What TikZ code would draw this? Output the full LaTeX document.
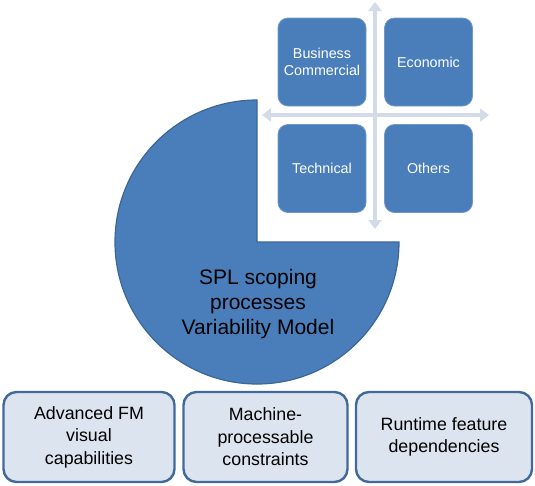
\documentclass[tikz,border=0pt]{standalone}
\usepackage{fontspec}
\setmainfont{Liberation Sans}
\usetikzlibrary{arrows.meta}
\definecolor{pieblue}{HTML}{4A7EBB}
\definecolor{pieedge}{HTML}{3B6696}
\definecolor{crossgray}{HTML}{D3DAE8}
\definecolor{boxfill}{HTML}{DCE4EF}
\definecolor{boxedge}{HTML}{41699A}
\begin{document}
\begin{tikzpicture}[x=1pt,y=-1pt,
  quad/.style={draw=pieblue!80!white,line width=0.8pt,fill=pieblue,rounded corners=10pt,
    minimum width=88pt,minimum height=88pt,text=white,align=center,font=\fontsize{14.3}{17.5}\selectfont},
  lowbox/.style={draw=boxedge,line width=2.4pt,fill=boxfill,rounded corners=13pt,
    minimum height=90pt,align=center,font=\fontsize{17.8}{22.5}\selectfont},
  crossarrow/.style={draw=crossgray,line width=4.5pt,
    {Triangle[width=13pt,length=9pt]}-{Triangle[width=13pt,length=9pt]}}]
\useasboundingbox (0,0) rectangle (535,485);
% three-quarter disc (y axis points down, so angles run negative)
\fill[pieblue,draw=pieedge,line width=1.2pt] (257,242) -- (257,100) arc[start angle=-90,end angle=-360,radius=142] -- cycle;
\node[font=\fontsize{21}{25}\selectfont,align=center] (pie) at (258,304) {SPL scoping\\processes\\Variability Model};
% crosshair
\coordinate (ctop) at (375,2);
\coordinate (cbot) at (375,229);
\coordinate (cleft) at (262,115);
\coordinate (cright) at (489,115);
\draw[crossarrow] (ctop) -- (cbot);
\draw[crossarrow] (cleft) -- (cright);
% quadrant boxes
\node[quad] (bus) at (322,62) {Business\\Commercial};
\node[quad] (eco) at (428.5,62) {Economic};
\node[quad] (tec) at (322,168.5) {Technical};
\node[quad] (oth) at (428.5,168.5) {Others};
% bottom boxes
\node[lowbox,minimum width=171pt] (adv) at (89,437) {Advanced FM\\visual\\capabilities};
\node[lowbox,minimum width=164pt] (mac) at (265.5,437) {Machine-\\processable\\constraints};
\node[lowbox,minimum width=176pt] (run) at (444,437) {Runtime feature\\dependencies};
\end{tikzpicture}
\end{document}
